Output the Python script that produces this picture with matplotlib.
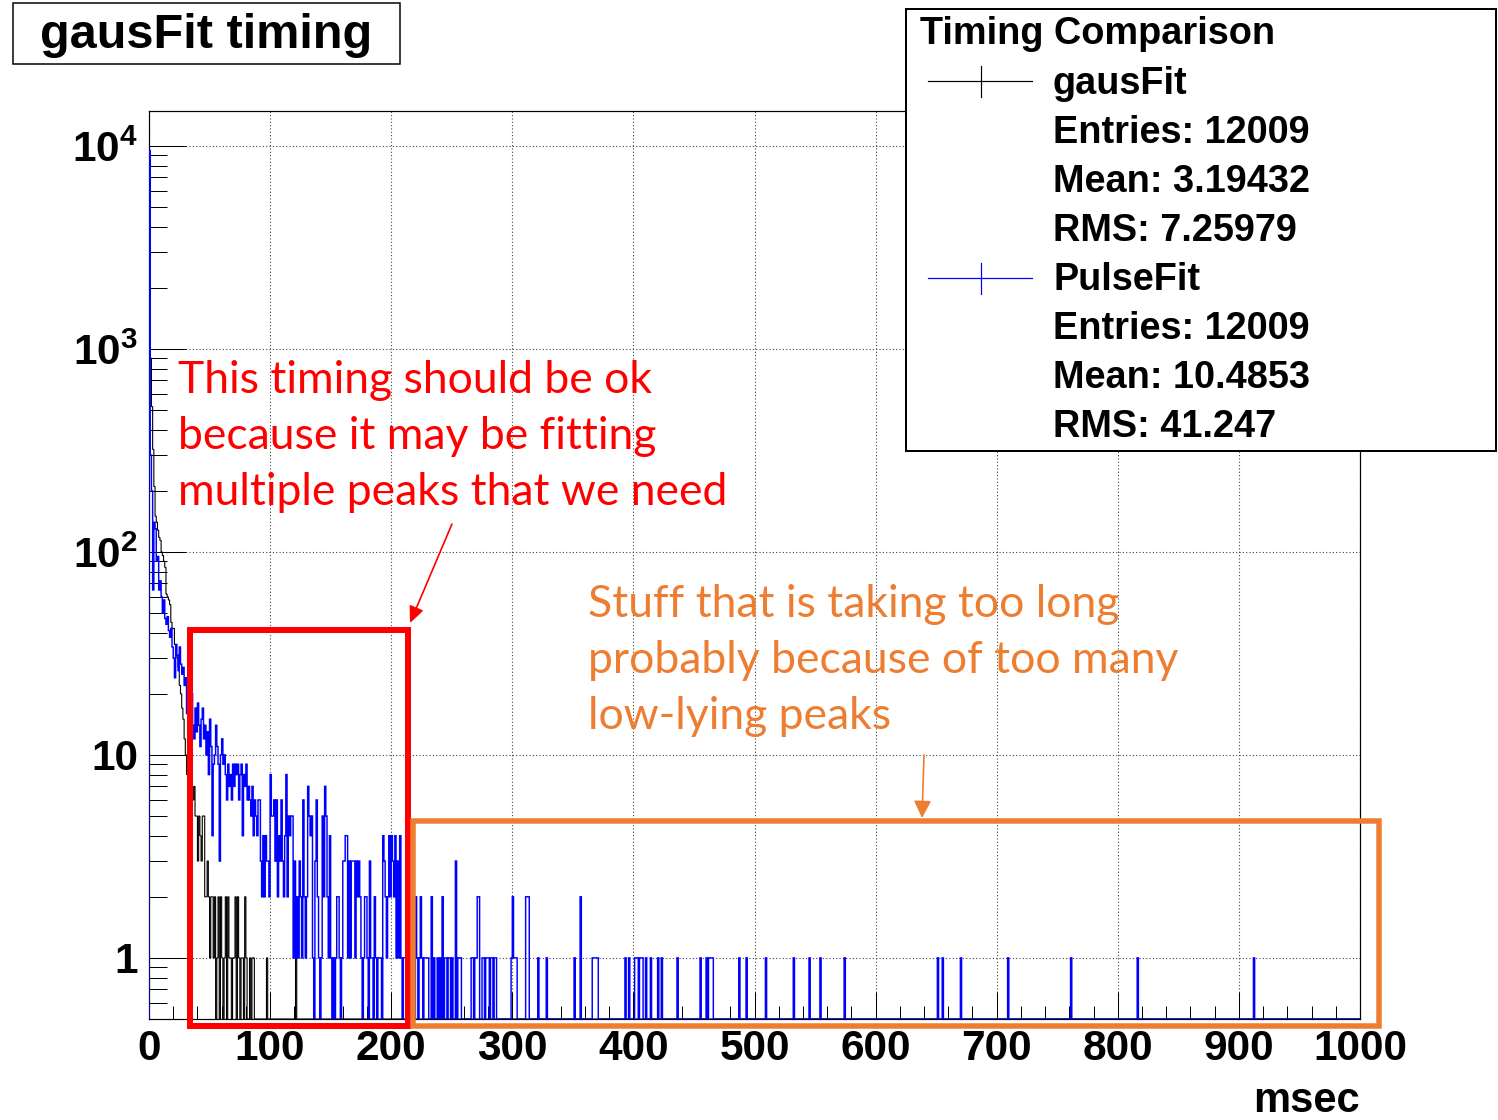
import numpy as np
import matplotlib
matplotlib.use('Agg')
import matplotlib.pyplot as plt
from matplotlib.patches import Rectangle, FancyArrowPatch
from matplotlib.lines import Line2D
from matplotlib.ticker import MultipleLocator, LogLocator, NullFormatter

plt.rcParams['font.family'] = ['Liberation Sans', 'DejaVu Sans']
plt.rcParams['mathtext.fontset'] = 'custom'
plt.rcParams['mathtext.rm'] = 'Liberation Sans'
plt.rcParams['mathtext.bf'] = 'Liberation Sans:bold'

# ---------------- data ----------------
x_min, x_max, n_bins = 0, 1000, 1000

# gausFit (black) counts, bins 0..99 (1 msec wide)
gaus_head = [8500, 900, 520, 320, 210, 150, 140, 128, 118, 114,
             100, 96, 90, 84, 62, 60, 58, 55, 45, 42,
             42, 35, 31, 30, 27, 22, 20, 17, 15, 12,
             10, 8, 9, 7, 6, 7, 6, 7, 5, 5,
             3, 5, 4, 3, 5, 5, 2, 2, 3, 2,
             1, 2, 2, 1, 2, 0, 1, 2, 0, 2,
             1, 0, 1, 2, 0, 2, 1, 1, 0, 1,
             1, 2, 0, 2, 1, 0, 1, 1, 0, 2,
             1, 0, 0, 1, 0, 1, 1, 0, 0, 0,
             0, 0, 0, 0, 0, 0, 0, 1, 0, 0]
gaus_tail_bins = [121]
gaus_tail_counts = [1]

# PulseFit (blue) counts, bins 0..230
pulse_head = [9500, 300, 200, 65, 140, 130, 90, 95, 65, 72,
              60, 50, 58, 47, 44, 48, 41, 38, 42, 34,
              30, 24, 35, 31, 26, 34, 28, 25, 27, 22,
              24, 16, 20, 17, 13, 20, 14, 12, 17, 13,
              18, 14, 11, 15, 17, 12, 14, 10, 13, 8,
              15, 11, 4, 9, 10, 14, 11, 9, 3, 10,
              12, 9, 10, 8, 6, 9, 7, 8, 6, 9,
              7, 9, 8, 9, 6, 8, 9, 4, 8, 7,
              9, 6, 7, 6, 5, 7, 4, 6, 5, 4,
              6, 6, 3, 2, 4, 2, 4, 3, 3, 2,
              8, 5, 5, 6, 3, 6, 2, 4, 3, 6,
              3, 2, 4, 8, 2, 5, 4, 5, 5, 1,
              3, 1, 2, 1, 3, 2, 1, 6, 2, 1,
              2, 7, 5, 4, 5, 1, 0, 3, 6, 2,
              1, 0, 1, 5, 2, 7, 5, 2, 1, 4,
              1, 0, 1, 0, 1, 2, 2, 1, 0, 1,
              3, 3, 4, 4, 1, 3, 1, 3, 3, 3,
              1, 3, 2, 3, 2, 1, 0, 1, 2, 2,
              1, 0, 3, 1, 1, 0, 2, 1, 0, 1,
              1, 1, 0, 4, 3, 2, 1, 2, 4, 2,
              4, 3, 2, 4, 1, 3, 1, 4, 1, 0,
              1, 1, 0, 2, 1, 0, 1, 0, 1, 0,
              2, 1, 0, 1, 2, 1, 0, 1, 1, 1,
              1]
pulse_tail_bins = [233, 235, 238, 240, 242, 244, 245, 247, 248, 250,
                   253, 255, 256, 257, 266, 267, 269, 270, 271, 272,
                   275, 276, 278, 279, 280, 282, 283, 285, 286, 299,
                   300, 301, 302, 303, 311, 312, 313, 321, 328, 351,
                   356, 366, 367, 368, 369, 370, 393, 396, 401, 402,
                   403, 405, 406, 407, 410, 414, 420, 423, 436, 455,
                   460, 462, 463, 464, 465, 487, 493, 509, 532, 545,
                   554, 574, 651, 655, 670, 709, 761, 816, 912]
pulse_tail_counts = [2, 1, 1, 1, 2, 1, 1, 1, 1, 1,
                     3, 1, 1, 1, 1, 1, 1, 1, 2, 2,
                     1, 1, 1, 1, 1, 1, 1, 1, 1, 1,
                     2, 1, 1, 1, 2, 2, 2, 1, 1, 1,
                     2, 1, 1, 1, 1, 1, 1, 1, 1, 1,
                     1, 1, 1, 1, 1, 1, 1, 1, 1, 1,
                     1, 1, 1, 1, 1, 1, 1, 1, 1, 1,
                     1, 1, 1, 1, 1, 1, 1, 1, 1]

x_tick_values = [0, 100, 200, 300, 400, 500, 600, 700, 800, 900, 1000]
x_tick_labels = [str(v) for v in x_tick_values]
y_tick_values = [1, 10, 100, 1000, 10000]
y_tick_labels = ['1', '10', r'$\mathbf{10^{2}}$', r'$\mathbf{10^{3}}$', r'$\mathbf{10^{4}}$']
x_title = 'msec'
plot_title = 'gausFit timing'

legend_title = 'Timing Comparison'
series_names = ['gausFit', 'PulseFit']
series_colors = ['black', '#0000ff']
series_entries = ['12009', '12009']
series_means = ['3.19432', '10.4853']
series_rms = ['7.25979', '41.247']

red_note = ['This timing should be ok', 'because it may be fitting', 'multiple peaks that we need']
orange_note = ['Stuff that is taking too long', 'probably because of too many', 'low-lying peaks']

# ---------------- figure ----------------
W, H = 1498, 1120
DPI = 100
PT = 72.0 / DPI  # points per pixel

fig = plt.figure(figsize=(W / DPI, H / DPI), dpi=DPI)
fig.patch.set_facecolor('white')

def fx(x):
    return x / W

def fy(y):
    return 1 - y / H

ax = fig.add_axes([fx(149), fy(1019), (1360 - 149) / W, (1019 - 111) / H])

edges = np.linspace(x_min, x_max, n_bins + 1)
gaus = np.zeros(n_bins)
gaus[:len(gaus_head)] = gaus_head
gaus[gaus_tail_bins] = gaus_tail_counts
pulse = np.zeros(n_bins)
pulse[:len(pulse_head)] = pulse_head
pulse[pulse_tail_bins] = pulse_tail_counts

y_lo, y_hi = 0.5, 14870
ax.set_yscale('log')
ax.set_xlim(x_min, x_max)
ax.set_ylim(y_lo, y_hi)

ax.stairs(np.maximum(gaus, y_lo), edges, baseline=y_lo, color=series_colors[0], lw=0.8, zorder=3)
ax.stairs(np.maximum(pulse, y_lo), edges, baseline=y_lo, color=series_colors[1], lw=1.05, zorder=4)

ax.set_xticks(x_tick_values, x_tick_labels)
ax.xaxis.set_minor_locator(MultipleLocator(20))
ax.set_yticks(y_tick_values, y_tick_labels)
ax.yaxis.set_minor_locator(LogLocator(base=10, subs=np.arange(2, 10), numticks=100))
ax.yaxis.set_minor_formatter(NullFormatter())

ax.tick_params(axis='x', which='major', direction='in', length=27 * PT, width=1 * PT,
               top=False, pad=7.5, labelsize=30.5)
ax.tick_params(axis='x', which='minor', direction='in', length=13.5 * PT, width=1 * PT, top=False)
ax.tick_params(axis='y', which='major', direction='in', length=37 * PT, width=1 * PT,
               right=False, pad=8, labelsize=30.5)
ax.tick_params(axis='y', which='minor', direction='in', length=18 * PT, width=1 * PT, right=False)
for lab in ax.get_xticklabels() + ax.get_yticklabels():
    lab.set_fontweight('bold')

ax.grid(True, which='major', linestyle=(0, (1, 2)), color='#444444', lw=0.8)
for sp in ax.spines.values():
    sp.set_linewidth(1.0 * PT * 1.2)
    sp.set_color('black')

fig.text(fx(1360), fy(1112), x_title, ha='right', va='baseline', fontsize=30, fontweight='bold')

# title box
fig.add_artist(Rectangle((fx(13), fy(64)), (400 - 13) / W, (64 - 3) / H, transform=fig.transFigure,
                         fc='white', ec='black', lw=1.5 * PT, zorder=5))
fig.text(fx(40), fy(48), plot_title, ha='left', va='baseline', fontsize=35, fontweight='bold', zorder=6)

# legend box
fig.add_artist(Rectangle((fx(906), fy(451)), (1496 - 906) / W, (451 - 9) / H, transform=fig.transFigure,
                         fc='white', ec='black', lw=2 * PT, zorder=5))
fs_leg = 27.3
fig.text(fx(920), fy(44), legend_title, ha='left', va='baseline', fontsize=fs_leg, fontweight='bold', zorder=6)
row_base = [94, 290]
row_center = [81, 278]
for i in range(2):
    b = row_base[i]
    lines = [series_names[i], 'Entries: ' + series_entries[i], 'Mean: ' + series_means[i], 'RMS: ' + series_rms[i]]
    for k, t in enumerate(lines):
        fig.text(fx(1053), fy(b + 49 * k), t, ha='left', va='baseline', fontsize=fs_leg,
                 fontweight='bold', zorder=6)
    c = row_center[i]
    fig.add_artist(Line2D([fx(928), fx(1032)], [fy(c), fy(c)], transform=fig.transFigure,
                          color=series_colors[i], lw=1.0 * PT * 1.2, zorder=6))
    fig.add_artist(Line2D([fx(981), fx(981)], [fy(c - 15), fy(c + 16)], transform=fig.transFigure,
                          color=series_colors[i], lw=1.0 * PT * 1.2, zorder=6))

# annotations
red = '#ff0000'
orange = '#ed7d31'
fs_note = 32
for k, t in enumerate(red_note):
    fig.text(fx(178), fy(393 + 56 * k), t, ha='left', va='baseline', fontsize=fs_note,
             family='Lato', color=red, zorder=7)
for k, t in enumerate(orange_note):
    fig.text(fx(588), fy(617 + 56 * k), t, ha='left', va='baseline', fontsize=fs_note,
             family='Lato', color=orange, zorder=7)

fig.add_artist(Rectangle((fx(190), fy(1025.5)), (407.5 - 190) / W, (1025.5 - 630) / H,
                         transform=fig.transFigure, fill=False, ec=red, lw=6 * PT, zorder=7))
fig.add_artist(Rectangle((fx(413), fy(1026)), (1379 - 413) / W, (1026 - 821) / H,
                         transform=fig.transFigure, fill=False, ec=orange, lw=5.5 * PT, zorder=7))

fig.add_artist(FancyArrowPatch((fx(452), fy(524)), (fx(410), fy(623)), transform=fig.transFigure,
                               arrowstyle='-|>,head_length=1.0,head_width=0.45', mutation_scale=10,
                               shrinkA=0, shrinkB=0, color=red, lw=1.2, zorder=7))
fig.add_artist(FancyArrowPatch((fx(924), fy(755)), (fx(922), fy(818)), transform=fig.transFigure,
                               arrowstyle='-|>,head_length=1.0,head_width=0.5', mutation_scale=10.5,
                               shrinkA=0, shrinkB=0, color=orange, lw=1.2, zorder=7))

fig.savefig('out.png', dpi=DPI, facecolor='white')
